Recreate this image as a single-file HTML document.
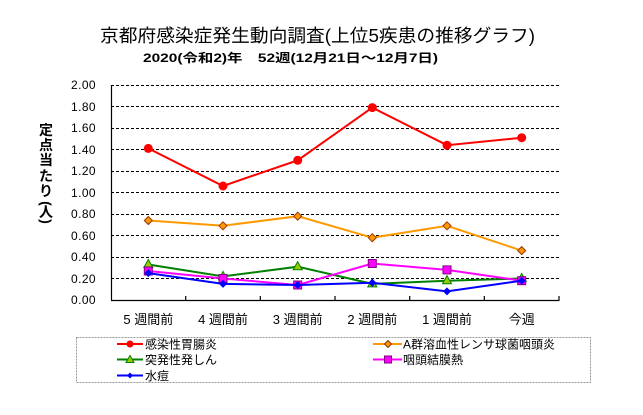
<!DOCTYPE html>
<html><head><meta charset="utf-8"><style>
html,body{margin:0;padding:0;background:#fff;}
svg{display:block;}
text{font-family:"Liberation Sans","Noto Sans CJK JP",sans-serif;fill:#000;}
</style></head><body>
<svg width="643" height="415" viewBox="0 0 643 415" xmlns="http://www.w3.org/2000/svg">
<rect width="643" height="415" fill="#fff"/>
<text x="100" y="42" font-size="18" textLength="435" lengthAdjust="spacingAndGlyphs">京都府感染症発生動向調査(上位5疾患の推移グラフ)</text>
<text x="143" y="62" font-size="12" font-weight="bold" textLength="295" lengthAdjust="spacingAndGlyphs">2020(令和2)年　52週(12月21日～12月7日)</text>

<g font-size="14" font-weight="bold" text-anchor="middle">
<text x="46" y="135">定</text>
<text x="46" y="150">点</text>
<text x="46" y="165">当</text>
<text x="46" y="181">た</text>
<text x="46" y="196">り</text>
<text x="46" y="208" transform="rotate(90 46 203.5)">(</text>
<text x="46" y="217">人</text>
<text x="46" y="226" transform="rotate(90 46 221.5)">)</text>
</g>

<g stroke="#000" stroke-width="1" stroke-dasharray="3,2">
<line x1="111" y1="85.5" x2="559" y2="85.5"/>
<line x1="111" y1="106.5" x2="559" y2="106.5"/>
<line x1="111" y1="128.5" x2="559" y2="128.5"/>
<line x1="111" y1="149.5" x2="559" y2="149.5"/>
<line x1="111" y1="171.5" x2="559" y2="171.5"/>
<line x1="111" y1="192.5" x2="559" y2="192.5"/>
<line x1="111" y1="214.5" x2="559" y2="214.5"/>
<line x1="111" y1="235.5" x2="559" y2="235.5"/>
<line x1="111" y1="257.5" x2="559" y2="257.5"/>
<line x1="111" y1="278.5" x2="559" y2="278.5"/>
</g>
<g stroke="#000" stroke-width="1.2">
<line x1="111.5" y1="85" x2="111.5" y2="300.5"/>
<line x1="111" y1="300.5" x2="559.5" y2="300.5"/>
<line x1="185.7" y1="296" x2="185.7" y2="300"/>
<line x1="260.3" y1="296" x2="260.3" y2="300"/>
<line x1="335" y1="296" x2="335" y2="300"/>
<line x1="409.7" y1="296" x2="409.7" y2="300"/>
<line x1="484.3" y1="296" x2="484.3" y2="300"/>
<line x1="559" y1="296" x2="559" y2="300"/>
</g>

<g font-size="12" text-anchor="end" letter-spacing="0.4">
<text x="96" y="89">2.00</text>
<text x="96" y="111">1.80</text>
<text x="96" y="132">1.60</text>
<text x="96" y="154">1.40</text>
<text x="96" y="175">1.20</text>
<text x="96" y="197">1.00</text>
<text x="96" y="218">0.80</text>
<text x="96" y="240">0.60</text>
<text x="96" y="261">0.40</text>
<text x="96" y="283">0.20</text>
<text x="96" y="304">0.00</text>
</g>

<g font-size="13" text-anchor="middle">
<text x="148.3" y="324">5 週間前</text>
<text x="223" y="324">4 週間前</text>
<text x="297.7" y="324">3 週間前</text>
<text x="372.3" y="324">2 週間前</text>
<text x="447" y="324">1 週間前</text>
<text x="521.7" y="324">今週</text>
</g>

<!-- Red -->
<polyline fill="none" stroke="#FF0000" stroke-width="2" points="148.3,148.4 223,186 297.7,160.3 372.3,107.6 447,145.2 521.7,137.7"/>
<g fill="#FF0000">
<circle cx="148.3" cy="148.4" r="4.5"/><circle cx="223" cy="186" r="4.5"/><circle cx="297.7" cy="160.3" r="4.5"/><circle cx="372.3" cy="107.6" r="4.5"/><circle cx="447" cy="145.2" r="4.5"/><circle cx="521.7" cy="137.7" r="4.5"/>
</g>
<!-- Orange -->
<polyline fill="none" stroke="#FF9900" stroke-width="2" points="148.3,220.5 223,225.8 297.7,216.2 372.3,237.7 447,225.8 521.7,250.6"/>
<g fill="#FF9900" stroke="#993300" stroke-width="1">
<path d="M148.3,216.5 l4,4 l-4,4 l-4,-4z"/><path d="M223,221.8 l4,4 l-4,4 l-4,-4z"/><path d="M297.7,212.2 l4,4 l-4,4 l-4,-4z"/><path d="M372.3,233.7 l4,4 l-4,4 l-4,-4z"/><path d="M447,221.8 l4,4 l-4,4 l-4,-4z"/><path d="M521.7,246.6 l4,4 l-4,4 l-4,-4z"/>
</g>
<!-- Green -->
<polyline fill="none" stroke="#008000" stroke-width="2" points="148.3,264.5 223,276.4 297.7,266.7 372.3,283.9 447,280.7 521.7,278.5"/>
<g fill="#99CC00" stroke="#008000" stroke-width="1">
<path d="M148.3,259.5 l4.5,8 h-9z"/><path d="M223,271.4 l4.5,8 h-9z"/><path d="M297.7,261.7 l4.5,8 h-9z"/><path d="M372.3,278.9 l4.5,8 h-9z"/><path d="M447,275.7 l4.5,8 h-9z"/><path d="M521.7,273.5 l4.5,8 h-9z"/>
</g>
<!-- Magenta -->
<polyline fill="none" stroke="#FF00FF" stroke-width="2" points="148.3,271 223,278.5 297.7,285 372.3,263.5 447,269.9 521.7,280.7"/>
<g fill="#FF00FF" stroke="#800080" stroke-width="1">
<rect x="144.3" y="267" width="8" height="8"/><rect x="219" y="274.5" width="8" height="8"/><rect x="293.7" y="281" width="8" height="8"/><rect x="368.3" y="259.5" width="8" height="8"/><rect x="443" y="265.9" width="8" height="8"/><rect x="517.7" y="276.7" width="8" height="8"/>
</g>
<!-- Blue -->
<polyline fill="none" stroke="#0000FF" stroke-width="2" points="148.3,273.1 223,283.9 297.7,285 372.3,282.8 447,291.4 521.7,280.7"/>
<g fill="#0000FF">
<path d="M148.3,269.1 l4,4 l-4,4 l-4,-4z"/><path d="M223,279.9 l4,4 l-4,4 l-4,-4z"/><path d="M297.7,281 l4,4 l-4,4 l-4,-4z"/><path d="M372.3,278.8 l4,4 l-4,4 l-4,-4z"/><path d="M447,287.4 l4,4 l-4,4 l-4,-4z"/><path d="M521.7,276.7 l4,4 l-4,4 l-4,-4z"/>
</g>

<!-- Legend -->
<rect x="76.5" y="337.5" width="514" height="45" fill="none" stroke="#999" stroke-width="1" stroke-dasharray="2,1"/>
<g stroke-width="2">
<line x1="117" y1="344" x2="143" y2="344" stroke="#FF0000"/>
<line x1="117" y1="359.5" x2="143" y2="359.5" stroke="#008000"/>
<line x1="117" y1="375.5" x2="143" y2="375.5" stroke="#0000FF"/>
<line x1="373" y1="344" x2="402" y2="344" stroke="#FF9900"/>
<line x1="373" y1="359.5" x2="402" y2="359.5" stroke="#FF00FF"/>
</g>
<circle cx="130" cy="344" r="3.5" fill="#FF0000"/>
<path d="M130,355.5 l4,7 h-8z" fill="#99CC00" stroke="#008000" stroke-width="1"/>
<path d="M130,372.5 l3,3 l-3,3 l-3,-3z" fill="#0000FF"/>
<path d="M388,340.5 l3.5,3.5 l-3.5,3.5 l-3.5,-3.5z" fill="#FF9900" stroke="#993300" stroke-width="1"/>
<rect x="384.5" y="356" width="7" height="7" fill="#FF00FF" stroke="#800080" stroke-width="1"/>
<g font-size="12">
<text x="145" y="348.5">感染性胃腸炎</text>
<text x="145" y="364">突発性発しん</text>
<text x="145" y="380">水痘</text>
<text x="403" y="348.5">A群溶血性レンサ球菌咽頭炎</text>
<text x="403" y="364">咽頭結膜熱</text>
</g>
</svg>
</body></html>
